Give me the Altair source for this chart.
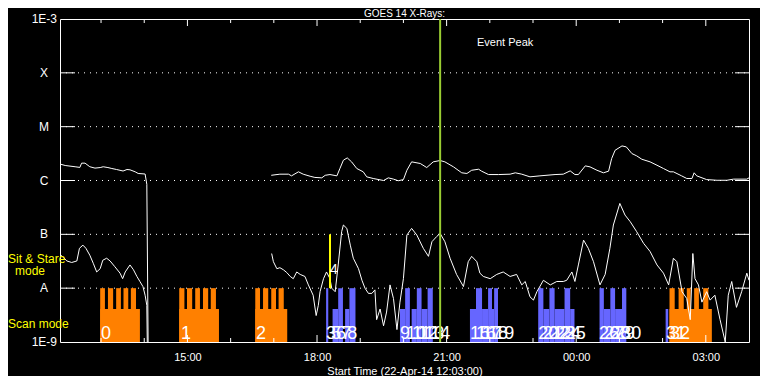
import altair as alt
import pandas as pd

# time axis: hours after 22-Apr-14 00:00 (values > 24 are on 23-Apr)
# ---------- GOES long channel (1-8 A), W/m^2 ----------
hi1_t = [12.07, 12.17, 12.40, 12.51, 12.55, 12.63, 12.74, 12.86, 12.98, 13.05, 13.16,
         13.25, 13.36, 13.51, 13.60, 13.67, 13.79, 13.86, 14.02, 14.06, 14.09]
hi1_f = [2.0e-6, 1.9e-6, 1.8e-6, 1.75e-6, 2.1e-6, 2.1e-6, 1.8e-6, 1.7e-6, 1.74e-6, 1.8e-6, 1.74e-6,
         1.67e-6, 1.6e-6, 1.5e-6, 1.6e-6, 1.58e-6, 1.45e-6, 1.35e-6, 1.32e-6, 8.5e-7, 1e-9]
hi2_t = [16.94, 17.14, 17.34, 17.41, 17.57, 17.68, 17.84, 17.95, 18.11, 18.19, 18.30, 18.46,
         18.53, 18.61, 18.70, 18.80, 18.92, 19.07, 19.15, 19.30, 19.54, 19.65, 19.77, 19.88,
         20.00, 20.08, 20.19, 20.39, 20.54, 20.69, 20.85, 20.96, 21.16, 21.35, 21.47, 21.58,
         21.74, 21.81, 21.97, 22.20, 22.47, 22.59, 22.74, 22.93, 23.16, 23.51, 23.70, 23.86,
         23.97, 24.05, 24.21, 24.32, 24.48, 24.63, 24.75, 24.82, 24.90, 25.06, 25.16, 25.29,
         25.40, 25.52, 25.71, 25.87, 26.02, 26.17, 26.25, 26.44, 26.56, 26.68, 26.73, 26.79,
         27.02, 27.26, 27.49, 27.64, 27.95, 28.0]
hi2_f = [1.25e-6, 1.31e-6, 1.31e-6, 1.22e-6, 1.45e-6, 1.31e-6, 1.2e-6, 1.14e-6, 1.12e-6, 1.25e-6,
         1.29e-6, 1.22e-6, 1.67e-6, 2.38e-6, 2.63e-6, 2.22e-6, 1.67e-6, 1.45e-6, 1.17e-6, 1.09e-6,
         1.0e-6, 1.12e-6, 1.06e-6, 0.99e-6, 1.04e-6, 1.55e-6, 2.22e-6, 2.07e-6, 1.74e-6, 2.22e-6,
         2.35e-6, 2.22e-6, 1.79e-6, 1.39e-6, 1.35e-6, 1.55e-6, 1.62e-6, 1.49e-6, 1.29e-6, 1.29e-6,
         1.31e-6, 1.39e-6, 1.31e-6, 1.17e-6, 1.22e-6, 1.29e-6, 1.31e-6, 1.51e-6, 1.29e-6, 1.29e-6,
         1.87e-6, 1.79e-6, 1.55e-6, 1.39e-6, 1.49e-6, 2.55e-6, 3.64e-6, 4.39e-6, 4.21e-6, 3.16e-6,
         2.87e-6, 2.48e-6, 2.22e-6, 1.92e-6, 1.67e-6, 1.45e-6, 1.45e-6, 1.22e-6, 1.09e-6, 1.09e-6,
         1.39e-6, 1.22e-6, 1.04e-6, 1.01e-6, 1.01e-6, 1.06e-6, 1.06e-6, 1.12e-6]

# ---------- GOES short channel (0.5-4 A), W/m^2 ----------
lo1_t = [12.07, 12.21, 12.32, 12.44, 12.50, 12.58, 12.65, 12.74, 12.82, 12.90, 12.98, 13.04, 13.13,
         13.21, 13.32, 13.44, 13.50, 13.56, 13.67, 13.75, 13.83, 13.90, 13.97, 14.02, 14.06, 14.07]
lo1_f = [4.1e-8, 3.2e-8, 3.0e-8, 3.2e-8, 5.5e-8, 6.3e-8, 5.5e-8, 4.1e-8, 2.9e-8, 2.0e-8, 2.3e-8,
         3.3e-8, 3.6e-8, 3.2e-8, 2.5e-8, 1.9e-8, 1.5e-8, 2.0e-8, 2.7e-8, 2.2e-8, 1.65e-8, 1.33e-8,
         1.07e-8, 7.4e-9, 4.8e-9, 1e-9]
lo2_t = [16.95, 16.99, 17.07, 17.14, 17.22, 17.30, 17.38, 17.45, 17.53, 17.61, 17.72, 17.80, 17.91,
         17.98, 18.03, 18.07, 18.15, 18.22, 18.30, 18.34, 18.42, 18.49, 18.57, 18.61, 18.69, 18.77,
         18.84, 18.96, 19.04, 19.11, 19.19, 19.27, 19.34, 19.38, 19.46, 19.54, 19.61, 19.69, 19.77,
         19.85, 19.92, 20.00, 20.08, 20.19, 20.31, 20.46, 20.58, 20.66, 20.77, 20.85, 20.96, 21.08,
         21.23, 21.39, 21.50, 21.58, 21.70, 21.77, 21.85, 22.01, 22.16, 22.31, 22.47, 22.62, 22.74,
         22.82, 22.93, 23.01, 23.09, 23.24, 23.40, 23.55, 23.70, 23.78, 23.90, 23.97, 24.05, 24.17,
         24.28, 24.40, 24.55, 24.67, 24.78, 24.86, 25.01, 25.13, 25.25, 25.40, 25.56, 25.71, 25.87,
         26.02, 26.14, 26.25, 26.33, 26.45, 26.56, 26.64, 26.70, 26.75, 26.83, 26.91, 27.02, 27.10,
         27.21, 27.33, 27.45, 27.52, 27.60, 27.71, 27.83, 27.95, 28.0]
lo2_f = [4.4e-8, 3.1e-8, 2.3e-8, 2.4e-8, 2.2e-8, 1.95e-8, 1.65e-8, 1.5e-8, 2.0e-8, 1.8e-8, 1.65e-8,
         1.15e-8, 7.4e-9, 3.1e-9, 4.8e-9, 8.6e-9, 1.5e-8, 2.0e-8, 1.5e-8, 1.0e-8, 8.6e-9, 2.7e-8,
         1.12e-7, 1.49e-7, 1.29e-7, 6.3e-8, 3.6e-8, 2.3e-8, 1.4e-8, 1.0e-8, 8.0e-9, 8.0e-9, 9.3e-9,
         2.6e-9, 4.1e-9, 2.0e-9, 3.6e-9, 1.15e-8, 6.4e-9, 1.7e-9, 5.5e-9, 1.5e-8, 9.7e-8, 1.29e-7,
         9.7e-8, 5.5e-8, 3.9e-8, 7.3e-8, 9.1e-8, 1.04e-7, 7.3e-8, 3.6e-8, 1.8e-8, 1.07e-8, 3.1e-8,
         3.9e-8, 3.1e-8, 1.9e-8, 1.65e-8, 1.5e-8, 1.8e-8, 2.0e-8, 1.65e-8, 1.8e-8, 1.15e-8, 1.33e-8,
         6.9e-9, 6.0e-9, 8.6e-9, 1.4e-8, 1.15e-8, 1.33e-8, 1.33e-8, 1.4e-8, 2.0e-8, 1.33e-8, 2.7e-8,
         7.8e-8, 5.5e-8, 3.1e-8, 1.15e-8, 1.8e-8, 5.5e-8, 1.49e-7, 3.75e-7, 2.28e-7, 1.72e-7, 1.12e-7,
         6.8e-8, 4.8e-8, 2.7e-8, 1.9e-8, 1.15e-8, 3.6e-8, 3.1e-8, 8.6e-9, 6.4e-9, 2.6e-9, 4.4e-8,
         1.5e-8, 1.15e-8, 5.5e-9, 8.6e-9, 6.0e-9, 7.4e-9, 2.6e-9, 1.0e-9, 7.4e-9, 1.33e-8, 4.4e-9,
         8.6e-9, 1.9e-8, 1.4e-8]

# ---------- IRIS observation bars ----------
TALL = 1e-8
MID = 4.1e-9
orange_start = [12.98, 12.98, 13.16, 13.35, 13.52, 13.69,
                14.81, 14.81, 14.99, 15.18, 15.36, 15.54,
                16.57, 16.57, 16.75, 16.94, 17.11,
                26.16, 26.16, 26.37, 26.56, 26.73, 26.94]
orange_end = [13.90, 13.09, 13.28, 13.46, 13.63, 13.81,
              15.73, 14.93, 15.11, 15.29, 15.48, 15.66,
              17.31, 16.68, 16.87, 17.05, 17.23,
              27.14, 26.28, 26.49, 26.65, 26.84, 27.06]
orange_top = [MID, TALL, TALL, TALL, TALL, TALL,
              MID, TALL, TALL, TALL, TALL, TALL,
              MID, TALL, TALL, TALL, TALL,
              MID, TALL, TALL, TALL, TALL, TALL]

blue_start = [18.21, 18.36, 18.49, 18.65, 18.75,
              19.92, 20.04, 20.19, 20.31, 20.42, 20.56,
              21.54, 21.68, 21.82, 21.96, 22.05, 22.10,
              23.12, 23.24, 23.38, 23.50, 23.73, 23.86,
              24.54, 24.64, 24.79, 24.90, 25.06,
              26.07]
blue_end = [18.26, 18.49, 18.60, 18.75, 18.89,
            20.04, 20.15, 20.31, 20.42, 20.56, 20.68,
            21.68, 21.82, 21.96, 22.05, 22.10, 22.19,
            23.24, 23.38, 23.50, 23.73, 23.86, 23.96,
            24.64, 24.79, 24.90, 25.06, 25.16,
            26.13]
blue_top = [TALL, MID, TALL, MID, TALL,
            MID, TALL, MID, TALL, MID, TALL,
            MID, TALL, MID, TALL, MID, TALL,
            TALL, MID, TALL, MID, TALL, MID,
            TALL, MID, TALL, MID, TALL,
            MID]

obs_ids = ["0", "1", "2", "3", "5", "6", "7", "8", "9", "10", "11", "12", "13", "14",
           "15", "16", "17", "18", "19", "20", "21", "22", "23", "24", "25",
           "26", "27", "28", "29", "30", "31", "32"]
obs_t = [13.00, 14.85, 16.59, 18.21, 18.33, 18.44, 18.56, 18.70, 19.92, 20.06, 20.20, 20.33,
         20.48, 20.62, 21.54, 21.68, 21.82, 21.96, 22.10, 23.12, 23.23, 23.37, 23.51, 23.65,
         23.76, 24.53, 24.65, 24.79, 24.90, 25.04, 26.08, 26.17]
obs_label_flux = 1.4e-9

stare_id = ["4"]
stare_t = [18.30]
stare_lo = [1e-8]
stare_hi = [1e-7]
stare_label_flux = [2.2e-8]

event_peak_t = [20.85]

level_flux = [1e-9, 1e-8, 1e-7, 1e-6, 1e-5, 1e-4, 1e-3]
level_text = ["1E-9", "A", "B", "C", "M", "X", "1E-3"]
grid_flux = [1e-8, 1e-7, 1e-6, 1e-5, 1e-4]

hour_minor = [13, 14, 16, 17, 19, 20, 22, 23, 25, 26]
hour_major = [15, 18, 21, 24, 27]

# ---------- tables ----------
curves = pd.concat([
    pd.DataFrame({"t": hi1_t, "f": hi1_f, "seg": "hi1"}),
    pd.DataFrame({"t": hi2_t, "f": hi2_f, "seg": "hi2"}),
    pd.DataFrame({"t": lo1_t, "f": lo1_f, "seg": "lo1"}),
    pd.DataFrame({"t": lo2_t, "f": lo2_f, "seg": "lo2"}),
])
orange = pd.DataFrame({"t": orange_start, "t2": orange_end, "f": orange_top, "b": 1e-9})
blue = pd.DataFrame({"t": blue_start, "t2": blue_end, "f": blue_top, "b": 1e-9})
obs = pd.DataFrame({"t": obs_t, "id": obs_ids, "f": obs_label_flux})
stare = pd.DataFrame({"t": stare_t, "lo": stare_lo, "hi": stare_hi, "id": stare_id,
                      "lf": stare_label_flux})
peak = pd.DataFrame({"t": event_peak_t})
levels = pd.DataFrame({"f": level_flux, "txt": level_text})
grid = pd.DataFrame({"f": grid_flux})
minor = pd.DataFrame({"t": hour_minor})
major = pd.DataFrame({"t": hour_major})

W, H = 689, 323
FONT = "Liberation Sans"
xs = alt.Scale(domain=[12.05, 28.0], nice=False, zero=False)
ys = alt.Scale(type="log", domain=[1e-9, 1e-3], nice=False)
xaxis = alt.Axis(values=hour_major,
                 labelExpr="(datum.value % 24 < 10 ? '0' : '') + (datum.value % 24) + ':00'",
                 ticks=False, domain=False, grid=False, labelColor="white", labelFont=FONT,
                 labelFontSize=11, labelPadding=9, title="Start Time (22-Apr-14 12:03:00)",
                 titleColor="white", titleFont=FONT, titleFontSize=11, titleFontWeight="normal",
                 titlePadding=3)


def X(f="t"):
    return alt.X(f"{f}:Q", scale=xs, axis=xaxis)


def Y(f="f"):
    return alt.Y(f"{f}:Q", scale=ys, axis=None)


one = alt.Data(values=[{}])

dots = alt.Chart(grid).mark_rule(color="white", strokeWidth=1, strokeDash=[1, 5]).encode(
    y=Y(), x=alt.value(0), x2=alt.value(W))
ltick = alt.Chart(grid).mark_rule(color="white", strokeWidth=1).encode(
    y=Y(), x=alt.value(0), x2=alt.value(15))
rtick = alt.Chart(grid).mark_rule(color="white", strokeWidth=1).encode(
    y=Y(), x=alt.value(W - 14), x2=alt.value(W))

obars = alt.Chart(orange).mark_rect(color="#ff8000").encode(
    x=X(), x2="t2:Q", y=Y(), y2="b:Q")
bbars = alt.Chart(blue).mark_rect(color="#6666ff").encode(
    x=X(), x2="t2:Q", y=Y(), y2="b:Q")

lines = alt.Chart(curves).mark_line(color="white", strokeWidth=1).encode(
    x=X(), y=Y(), detail="seg:N")

obs_txt = alt.Chart(obs).mark_text(align="left", baseline="middle", color="white",
                                   font=FONT, fontSize=18).encode(x=X(), y=Y(), text="id:N")
stare_rule = alt.Chart(stare).mark_rule(color="#ffff00", strokeWidth=2).encode(
    x=X(), y=Y("lo"), y2="hi:Q")
stare_txt = alt.Chart(stare).mark_text(align="left", baseline="middle", color="white",
                                       font=FONT, fontSize=14).encode(x=X(), y=Y("lf"), text="id:N")
peak_rule = alt.Chart(peak).mark_rule(color="#9acd32", strokeWidth=2).encode(
    x=X(), y=alt.value(0), y2=alt.value(H))

bt_minor = alt.Chart(minor).mark_rule(color="white").encode(x=X(), y=alt.value(H), y2=alt.value(H - 4))
bt_major = alt.Chart(major).mark_rule(color="white").encode(x=X(), y=alt.value(H), y2=alt.value(H - 7))
tp_minor = alt.Chart(minor).mark_rule(color="white").encode(x=X(), y=alt.value(0), y2=alt.value(4))
tp_major = alt.Chart(major).mark_rule(color="white").encode(x=X(), y=alt.value(0), y2=alt.value(7))

ylab_letters = alt.Chart(levels).transform_filter("length(datum.txt) == 1").mark_text(
    align="center", baseline="middle", color="white", font=FONT, fontSize=12).encode(
    y=Y(), x=alt.value(-16), text="txt:N")
ylab_exp = alt.Chart(levels).transform_filter("length(datum.txt) > 1").mark_text(
    align="right", baseline="middle", color="white", font=FONT, fontSize=12).encode(
    y=Y(), x=alt.value(-3), text="txt:N")

title = alt.Chart(one).mark_text(text="GOES 14 X-Rays:", align="center", baseline="top",
                                 color="white", font=FONT, fontSize=10).encode(
    x=alt.value(W / 2), y=alt.value(-10))
evt = alt.Chart(one).mark_text(text="Event Peak", align="left", baseline="middle",
                               color="white", font=FONT, fontSize=11).encode(
    x=alt.value(417), y=alt.value(24))
sit1 = alt.Chart(one).mark_text(text="Sit & Stare", align="left", baseline="middle",
                                color="#ffff00", font=FONT, fontSize=12).encode(
    x=alt.value(-52), y=alt.value(240))
sit2 = alt.Chart(one).mark_text(text="mode", align="left", baseline="middle",
                                color="#ffff00", font=FONT, fontSize=12).encode(
    x=alt.value(-45), y=alt.value(252))
scan = alt.Chart(one).mark_text(text="Scan mode", align="left", baseline="middle",
                                color="#ffff00", font=FONT, fontSize=12).encode(
    x=alt.value(-52), y=alt.value(305))

chart = alt.layer(
    dots, ltick, rtick, obars, bbars, lines, obs_txt, stare_rule, stare_txt, peak_rule,
    bt_minor, bt_major, tp_minor, tp_major, ylab_letters, ylab_exp, title, evt, sit1, sit2, scan
).properties(
    width=W, height=H,
    autosize=alt.AutoSizeParams(type="none"),
    padding={"left": 52, "top": 11, "right": 11, "bottom": 34},
    background="black",
).configure_view(stroke="white", strokeWidth=1)

chart.save("out.html", embed_options={"renderer": "svg", "actions": False})
